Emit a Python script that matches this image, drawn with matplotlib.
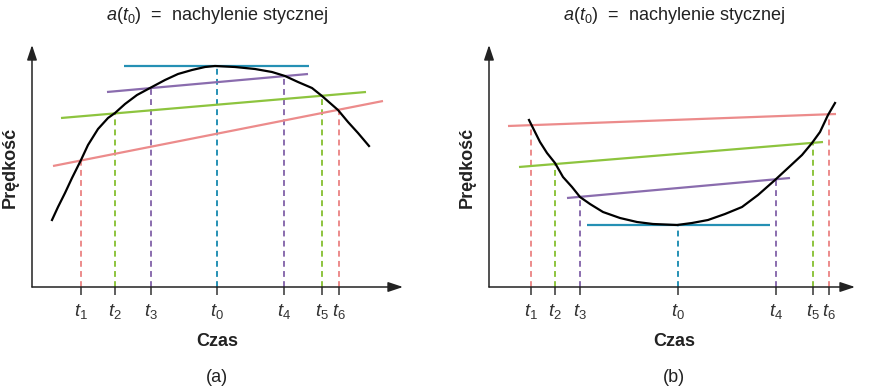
import matplotlib
matplotlib.use('Agg')
import matplotlib.pyplot as plt

plt.rcParams['font.family'] = ['Liberation Sans', 'DejaVu Sans']
plt.rcParams['mathtext.fontset'] = 'custom'
plt.rcParams['mathtext.rm'] = 'Liberation Sans'
plt.rcParams['mathtext.it'] = 'Liberation Sans:italic'

# Colours of the tangents / drop lines
BLUE = '#2590b4'
PURPLE = '#8a6cae'
GREEN = '#8dc43e'
RED = '#ec8b8b'

TICK_NAMES = ['t_1', 't_2', 't_3', 't_0', 't_4', 't_5', 't_6']
TICK_COLORS = [RED, GREEN, PURPLE, BLUE, PURPLE, GREEN, RED]

# ---- panel (a): velocity with a maximum ----
a_ticks = [49, 83, 119, 185, 252, 290, 307]
a_curve_x = [20, 26, 33, 40, 49, 56, 66, 76, 83, 93, 105, 118, 133, 146, 160,
             173, 183, 203, 223, 240, 253, 266, 280, 290, 298, 306, 316, 326, 337]
a_curve_y = [67, 80, 94, 109, 127, 142, 158, 169, 174, 183, 192, 199, 207, 213, 217,
             220, 221, 220, 218, 215, 211, 205, 199, 191, 184, 177, 165, 154, 141]
a_drop_y = [127, 174, 199, 221, 211, 191, 177]
a_tangents = [  # (x0, y0, x1, y1, colour)
    (92, 221, 277, 221, BLUE),
    (75, 195, 276, 213, PURPLE),
    (29, 169, 334, 195, GREEN),
    (21, 121, 351, 186, RED),
]

# ---- panel (b): velocity with a minimum ----
b_ticks = [42, 66, 91, 189, 287, 324, 340]
b_curve_x = [40, 44, 51, 58, 66, 74, 83, 91, 101, 114, 131, 148, 164, 188,
             203, 219, 236, 253, 269, 286, 299, 313, 323, 331, 339, 346]
b_curve_y = [167, 159, 145, 134, 124, 110, 100, 90, 83, 75, 69, 65, 63, 62,
             64, 67, 73, 80, 92, 107, 119, 132, 144, 155, 172, 184]
b_drop_y = [162, 123, 90, 62, 108, 145, 173]
b_tangents = [
    (98, 62, 281, 62, BLUE),
    (78, 89, 301, 109, PURPLE),
    (30, 120, 334, 145, GREEN),
    (19, 161, 347, 173, RED),
]

W, H = 879, 388


def draw_panel(origin, x_end, ticks, cx, cy, drops, tangents, letter):
    ox, oy = origin
    ax = fig.add_axes([ox / W, (H - oy) / H, 390 / W, 260 / H])
    ax.set_xlim(0, 390)
    ax.set_ylim(0, 260)
    for s in ax.spines.values():
        s.set_visible(False)
    ax.set_yticks([])

    # axes with arrows
    ax.annotate('', xy=(x_end, 0), xytext=(0, 0),
                arrowprops=dict(arrowstyle='-|>,head_length=0.9,head_width=0.3',
                                color='#222222', lw=1.1, shrinkA=0, shrinkB=0))
    ax.annotate('', xy=(0, 242), xytext=(0, 0),
                arrowprops=dict(arrowstyle='-|>,head_length=0.9,head_width=0.3',
                                color='#222222', lw=1.1, shrinkA=0, shrinkB=0))

    # dashed drop lines
    for t, y, c in zip(ticks, drops, TICK_COLORS):
        ax.plot([t, t], [0, y], color=c, lw=1.4, ls=(0, (3, 2.2)))

    # tangents
    for x0, y0, x1, y1, c in tangents:
        ax.plot([x0, x1], [y0, y1], color=c, lw=1.6, solid_capstyle='butt')

    # curve
    ax.plot(cx, cy, color='black', lw=1.6, solid_joinstyle='round')

    ax.set_xticks(ticks)
    ax.set_xticklabels(['$' + n + '$' for n in TICK_NAMES], fontsize=13.5)
    ax.tick_params(axis='x', direction='out', length=6, width=1.1,
                   color='#333333', pad=4.5, labelcolor='#333333')

    cxp = (ox + 185) / W
    fig.text(cxp, 1 - 15 / H, r'$a(t_0)$  =  nachylenie stycznej', ha='center',
             va='center', fontsize=13, color='#222222')
    fig.text(cxp, 1 - 342 / H, 'Czas', ha='center', va='center',
             fontsize=13, fontweight='bold', color='#222222')
    fig.text(cxp, 1 - 377 / H, letter, ha='center', va='center',
             fontsize=13, color='#222222')
    fig.text((ox - 22) / W, 1 - 167 / H, 'Prędkość', ha='center', va='center',
             rotation=90, fontsize=13, fontweight='bold', color='#222222')


fig = plt.figure(figsize=(8.79, 3.88), dpi=100)
draw_panel((32, 287), 371, a_ticks, a_curve_x, a_curve_y, a_drop_y, a_tangents, '(a)')
draw_panel((489, 287), 366, b_ticks, b_curve_x, b_curve_y, b_drop_y, b_tangents, '(b)')

fig.savefig('out.png', dpi=100)
